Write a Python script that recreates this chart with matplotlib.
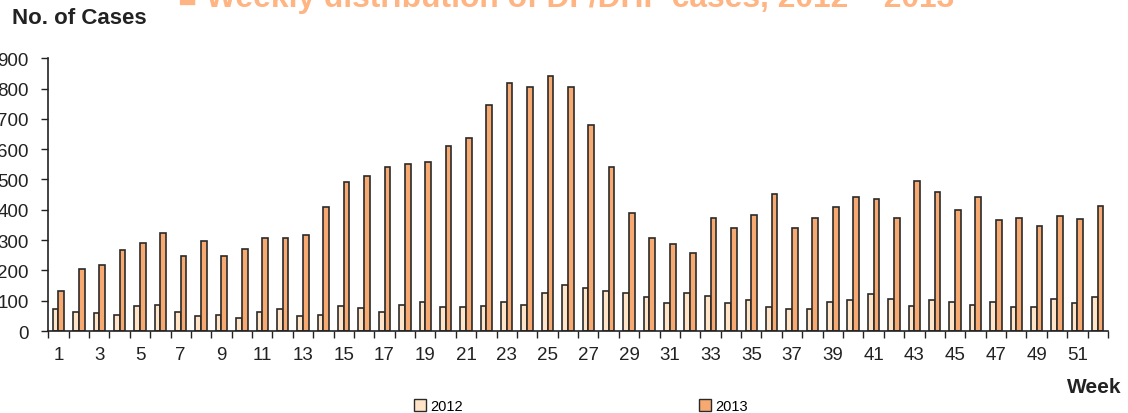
import numpy as np
import matplotlib
matplotlib.use("Agg")
import matplotlib.pyplot as plt
from matplotlib.patches import Patch

plt.rcParams['font.family'] = ['Liberation Sans', 'DejaVu Sans']

weeks = list(range(1, 53))
cases_2012 = [74, 63, 58, 53, 83, 87, 63, 48, 53, 44, 63, 73, 48, 53, 83, 77,
              63, 87, 97, 78, 78, 83, 97, 87, 126, 151, 141, 131, 126, 111, 93, 126,
              116, 93, 102, 78, 73, 73, 97, 102, 121, 107, 83, 102, 97, 87, 97, 78,
              78, 107, 93, 111]
cases_2013 = [131, 204, 218, 268, 292, 322, 248, 296, 248, 272, 306, 306, 316, 408, 491, 511,
              540, 550, 558, 612, 637, 744, 817, 806, 842, 806, 681, 540, 389, 306, 286, 258,
              373, 340, 384, 452, 340, 373, 409, 443, 437, 373, 496, 457, 399, 443, 365, 373,
              345, 379, 369, 413]
y_ticks = list(range(0, 1000, 100))
series_names = ["2012", "2013"]

color_2012 = "#FFE4C8"
color_2013 = "#F6AA72"
edge = "#2a2a2a"

fig = plt.figure(figsize=(11.28, 4.14), dpi=100)
ax = fig.add_axes([0.0428, 0.198, 0.9394, 0.659])

x = np.arange(len(weeks))
w = 0.28
ax.bar(x - w / 2, cases_2012, width=w, color=color_2012, edgecolor=edge, linewidth=1.2,
       label=series_names[0])
ax.bar(x + w / 2, cases_2013, width=w, color=color_2013, edgecolor=edge, linewidth=1.2,
       label=series_names[1])

ax.set_xlim(-0.5, len(weeks) - 0.5)
ax.set_ylim(0, 900)
ax.set_yticks(y_ticks)
ax.tick_params(axis='y', direction='out', length=5, width=1, labelsize=13.5, pad=9,
               colors='#222222')

# week labels on odd weeks, tick marks on category boundaries
ax.set_xticks(x[::2])
ax.set_xticklabels([str(wk) for wk in weeks[::2]])
ax.tick_params(axis='x', which='major', length=0, labelsize=13.5, pad=11, colors='#222222')
ax.set_xticks(np.arange(-0.5, len(weeks)), minor=True)
ax.tick_params(axis='x', which='minor', direction='out', length=5, width=1, color='#222222')

for s in ['top', 'right']:
    ax.spines[s].set_visible(False)
for s in ['left', 'bottom']:
    ax.spines[s].set_color('#222222')
    ax.spines[s].set_linewidth(1.2)

fig.text(12 / 1128, 1 - 19 / 414, "No. of Cases", fontsize=16, fontweight='bold',
         color='#222222', ha='left', va='center')
fig.text(1121 / 1128, 1 - 388 / 414, "Week", fontsize=15, fontweight='bold',
         color='#222222', ha='right', va='center')
fig.text(178 / 1128, 1 - 7 / 414, "\u25a0 Weekly distribution of DF/DHF cases, 2012 \u2013 2013",
         fontsize=22.9, fontweight='bold', color='#FFB583', ha='left', va='baseline',
         family=['Liberation Sans', 'DejaVu Sans'])

handles = [Patch(facecolor=color_2012, edgecolor=edge, linewidth=1.0),
           Patch(facecolor=color_2013, edgecolor=edge, linewidth=1.0)]
fig.legend(handles, series_names, loc='center left', bbox_to_anchor=(414 / 1128, 1 - 407 / 414),
           ncol=2, frameon=False, fontsize=10.5, handlelength=0.8, handleheight=0.8,
           handletextpad=0.3, columnspacing=16.2, borderpad=0, borderaxespad=0)

fig.savefig("out.png", dpi=100)
